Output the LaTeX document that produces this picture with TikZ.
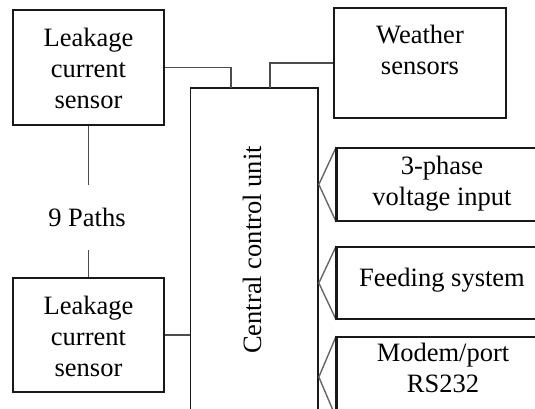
\documentclass[tikz,border=0pt]{standalone}
\usepackage{fontspec}
\setmainfont{Liberation Serif}
\begin{document}
\begin{tikzpicture}[x=1pt,y=-1pt,
  box/.style={draw=black!90,line width=1.7pt,rectangle,inner sep=0pt,fill=white},
  txt/.style={align=center,inner sep=0pt,font=\fontsize{26.5}{31}\selectfont},
  wire/.style={draw=black!70,line width=1.6pt},
  feed/.style={draw=black!60,line width=1.4pt}]
\useasboundingbox (0,0) rectangle (535,409);
\clip (0,0) rectangle (535,409);
\fill[white] (0,0) rectangle (535,409);

% sensor boxes on the left
\node[box,minimum width=151pt,minimum height=115pt] (lc1) at (88.5,67.5) {};
\node[txt] (lc1t) at (88.5,68) {Leakage\\current\\sensor};
\node[box,minimum width=151pt,minimum height=114pt] (lc2) at (88.5,335) {};
\node[txt] (lc2t) at (88.5,336) {Leakage\\current\\sensor};
\node[txt] (paths) at (87,217) {9 Paths};

% central unit, running past the lower edge
\node[box,minimum width=127.5pt,minimum height=372pt] (ccu) at (254.25,274) {};
\node[txt,rotate=90] (ccut) at (252,250) {Central control unit};

% weather sensors
\node[box,minimum width=172pt,minimum height=110pt] (ws) at (420,63) {};
\node[txt] (wst) at (420,50) {Weather\\sensors};

% boxes on the right, cut by the right edge
\node[box,minimum width=211pt,minimum height=73pt] (ph) at (442.5,184.5) {};
\node[txt] (pht) at (442,184) {3-phase\\voltage input};
\node[box,minimum width=211pt,minimum height=72pt] (fs) at (442.5,283) {};
\node[txt] (fst) at (442,280) {Feeding system};
\node[box,minimum width=211pt,minimum height=80pt] (mp) at (442.5,377) {};
\node[txt] (mpt) at (443,368) {Modem/port\\RS232};

% links into the central unit
\coordinate (t1) at (231,88);
\coordinate (t2) at (270,88);
\draw[wire] (lc1.east) -| (t1);
\draw[wire] (ws.west) -| (t2);
\draw[wire] (lc2.east) -- (ccu.west |- lc2.east);

% link between the leakage sensors
\coordinate (p1) at (88.5,185);
\coordinate (p2) at (88.5,250);
\draw[wire] (lc1.south) -- (p1);
\draw[wire] (p2) -- (lc2.north);

% fan-in links from the right boxes
\foreach \b in {ph,fs,mp}{
  \draw[feed,line join=miter] (\b.north west) -- (ccu.east |- \b.west) -- (\b.south west);
  \draw[draw=black!90,line width=2.2pt] (\b.north west) -- (\b.south west);
}
\end{tikzpicture}
\end{document}
